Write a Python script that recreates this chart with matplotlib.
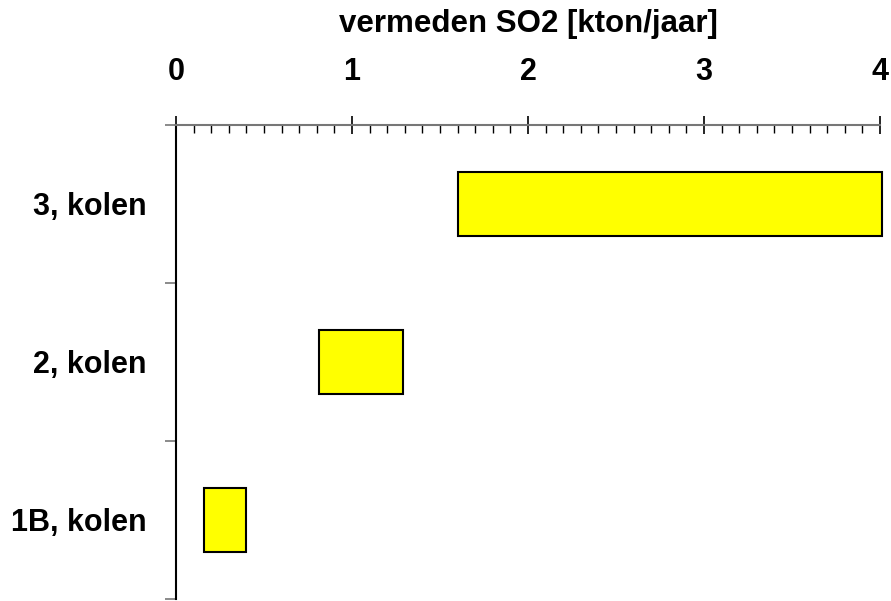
import matplotlib
matplotlib.use("Agg")
import matplotlib.pyplot as plt
from matplotlib.ticker import MultipleLocator

plt.rcParams['font.family'] = ['Liberation Sans', 'DejaVu Sans']

categories = ["1B, kolen", "2, kolen", "3, kolen"]
bar_start = [0.16, 0.81, 1.60]
bar_end = [0.40, 1.29, 4.01]
xticks = [0, 1, 2, 3, 4]

fig = plt.figure(figsize=(8.91, 6.01), dpi=100)
ax = fig.add_axes([176/891, 1 - 599/601, (880-176)/891, (599-125)/601])

widths = [e - s for s, e in zip(bar_start, bar_end)]
ypos = [0.5 + i for i in range(len(categories))]
ax.barh(ypos, widths, left=bar_start, height=0.4, color='#FFFF00',
        edgecolor='black', linewidth=1.5, zorder=3, clip_on=False)

ax.set_xlim(0, 4)
ax.set_ylim(0, 3)
ax.xaxis.tick_top()
ax.xaxis.set_label_position('top')
ax.set_xticks(xticks)
ax.set_xticklabels([str(t) for t in xticks], fontsize=22, fontweight='bold')
ax.xaxis.set_minor_locator(MultipleLocator(0.1))
ax.tick_params(axis='x', which='major', direction='inout', length=13, width=1.2,
               pad=21, color='black')
ax.tick_params(axis='x', which='minor', direction='in', length=6, width=1.0,
               color='black')

ax.set_yticks([0, 1, 2, 3])
ax.set_yticklabels([])
ax.tick_params(axis='y', which='major', direction='out', length=8, width=1.2,
               color='#777777')
ax.set_yticks(ypos, minor=True)
ax.set_yticklabels(categories, minor=True, fontsize=22, fontweight='bold')
ax.tick_params(axis='y', which='minor', length=0, pad=21)

ax.set_xlabel('vermeden SO2 [kton/jaar]', fontsize=22.5, fontweight='bold', labelpad=18)

for s in ['right', 'bottom']:
    ax.spines[s].set_visible(False)
ax.spines['top'].set_color('#777777')
ax.spines['top'].set_linewidth(1.5)
ax.spines['left'].set_color('black')
ax.spines['left'].set_linewidth(1.5)

fig.savefig('out.png', dpi=100)
